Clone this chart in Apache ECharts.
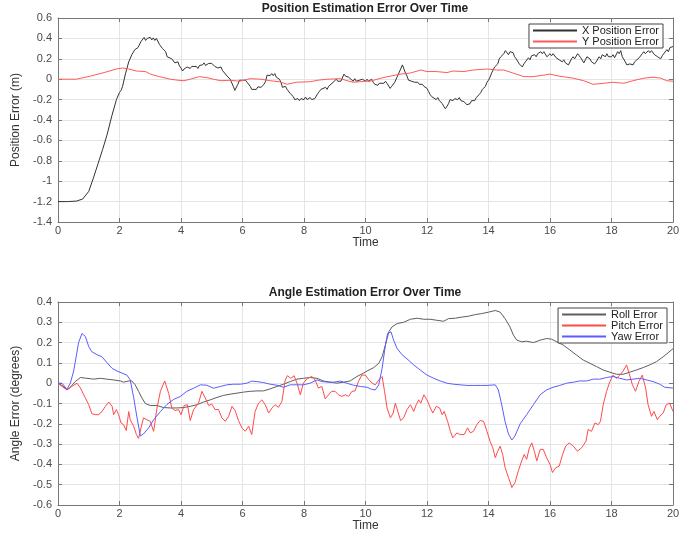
<!DOCTYPE html>
<html>
<head>
<meta charset="utf-8">
<script src="https://cdn.jsdelivr.net/npm/echarts@6/dist/echarts.min.js"></script>
<style>
  html, body { margin: 0; padding: 0; background: #fff; }
  #chart { width: 687px; height: 533px; }
</style>
</head>
<body>
<div id="chart"></div>
<script>
// ---- Position estimation error, [time, error (m)] ----
const xPositionError = [
  [0,-1.2],[0.3,-1.2],[0.6,-1.195],[0.8,-1.175],[1.0,-1.1],[1.15,-0.97],[1.3,-0.83],[1.45,-0.69],
  [1.6,-0.54],[1.75,-0.36],[1.9,-0.2],[2.0,-0.13],[2.05,-0.11],[2.1,-0.07],[2.2,0.06],[2.3,0.17],
  [2.4,0.24],[2.5,0.29],[2.6,0.31],[2.7,0.37],[2.8,0.41],[2.85,0.38],[2.9,0.40],[2.95,0.385],
  [3.0,0.41],[3.05,0.385],[3.1,0.405],[3.15,0.38],[3.2,0.40],[3.3,0.34],[3.35,0.33],[3.4,0.30],
  [3.5,0.27],[3.55,0.22],[3.6,0.235],[3.7,0.2],[3.75,0.21],[3.8,0.16],[3.9,0.17],[3.95,0.13],
  [4.0,0.11],[4.05,0.08],[4.1,0.1],[4.15,0.085],[4.2,0.12],[4.3,0.105],[4.35,0.125],[4.4,0.11],
  [4.5,0.125],[4.55,0.105],[4.6,0.135],[4.7,0.14],[4.75,0.16],[4.8,0.135],[4.9,0.155],[4.95,0.14],
  [5.0,0.155],[5.1,0.125],[5.15,0.14],[5.2,0.11],[5.3,0.12],[5.35,0.085],[5.4,0.08],[5.5,0.03],
  [5.6,0.0],[5.7,-0.07],[5.75,-0.11],[5.8,-0.1],[5.85,-0.05],[5.9,-0.01],[5.95,0.005],[6.0,-0.01],
  [6.05,0.005],[6.1,-0.01],[6.15,-0.03],[6.25,-0.07],[6.3,-0.1],[6.35,-0.11],[6.45,-0.1],[6.5,-0.075],
  [6.6,-0.08],[6.7,-0.05],[6.75,-0.02],[6.8,0.04],[6.85,0.055],[6.9,0.035],[6.95,0.055],[7.0,0.035],
  [7.05,0.055],[7.1,0.02],[7.2,0.0],[7.25,-0.03],[7.3,-0.08],[7.35,-0.09],[7.4,-0.07],[7.45,-0.1],
  [7.5,-0.09],[7.55,-0.14],[7.65,-0.17],[7.7,-0.2],[7.8,-0.19],[7.85,-0.21],[7.9,-0.19],[8.0,-0.2],
  [8.05,-0.175],[8.1,-0.2],[8.2,-0.18],[8.25,-0.2],[8.3,-0.21],[8.35,-0.19],[8.45,-0.14],[8.5,-0.12],
  [8.55,-0.1],[8.6,-0.11],[8.7,-0.08],[8.75,-0.1],[8.8,-0.07],[8.85,-0.08],[8.95,-0.03],[9.0,-0.02],
  [9.05,0.0],[9.1,-0.02],[9.15,-0.01],[9.2,-0.02],[9.3,0.05],[9.35,0.03],[9.4,0.04],[9.45,0.02],
  [9.5,0.02],[9.6,-0.02],[9.65,0.005],[9.7,-0.02],[9.8,-0.01],[9.85,-0.025],[9.9,0.0],[10.0,-0.02],
  [10.05,0.0],[10.1,-0.02],[10.2,0.0],[10.25,-0.03],[10.3,-0.05],[10.4,-0.06],[10.45,-0.04],[10.5,-0.05],
  [10.6,-0.04],[10.65,-0.02],[10.7,-0.04],[10.8,-0.09],[10.85,-0.07],[10.95,-0.03],[11.0,-0.02],[11.1,0.07],
  [11.2,0.14],[11.3,0.06],[11.35,0.03],[11.4,-0.01],[11.45,0.0],[11.5,-0.02],[11.55,-0.01],[11.6,-0.03],
  [11.7,-0.03],[11.75,-0.05],[11.85,-0.05],[11.9,-0.07],[12.0,-0.09],[12.05,-0.12],[12.1,-0.15],[12.15,-0.17],
  [12.2,-0.16],[12.3,-0.2],[12.35,-0.18],[12.4,-0.21],[12.5,-0.24],[12.55,-0.27],[12.6,-0.29],[12.65,-0.28],
  [12.7,-0.24],[12.75,-0.2],[12.8,-0.19],[12.85,-0.21],[12.9,-0.19],[13.0,-0.2],[13.05,-0.18],[13.1,-0.21],
  [13.2,-0.22],[13.3,-0.25],[13.35,-0.26],[13.4,-0.24],[13.45,-0.21],[13.5,-0.2],[13.55,-0.21],[13.6,-0.18],
  [13.7,-0.15],[13.75,-0.13],[13.8,-0.1],[13.9,-0.07],[13.95,-0.03],[14.0,-0.01],[14.05,0.02],[14.1,0.06],
  [14.15,0.09],[14.2,0.12],[14.3,0.15],[14.35,0.2],[14.4,0.22],[14.5,0.25],[14.55,0.28],[14.6,0.27],
  [14.65,0.24],[14.7,0.27],[14.8,0.26],[14.85,0.22],[14.9,0.2],[15.0,0.15],[15.1,0.12],[15.15,0.15],
  [15.2,0.17],[15.3,0.21],[15.35,0.19],[15.4,0.23],[15.5,0.24],[15.55,0.22],[15.6,0.25],[15.7,0.27],
  [15.75,0.25],[15.8,0.27],[15.9,0.22],[16.0,0.25],[16.05,0.23],[16.1,0.25],[16.2,0.21],[16.25,0.22],
  [16.3,0.19],[16.4,0.17],[16.45,0.19],[16.5,0.16],[16.6,0.14],[16.7,0.2],[16.75,0.22],[16.8,0.2],
  [16.9,0.25],[16.95,0.23],[17.0,0.21],[17.1,0.16],[17.15,0.19],[17.2,0.22],[17.3,0.2],[17.35,0.17],
  [17.45,0.15],[17.5,0.17],[17.6,0.22],[17.65,0.2],[17.7,0.24],[17.8,0.22],[17.85,0.25],[17.9,0.22],
  [18.0,0.22],[18.05,0.24],[18.1,0.21],[18.2,0.27],[18.25,0.25],[18.3,0.28],[18.35,0.22],[18.45,0.17],
  [18.5,0.14],[18.55,0.13],[18.6,0.15],[18.7,0.14],[18.75,0.17],[18.8,0.18],[18.9,0.21],[18.95,0.2],
  [19.0,0.25],[19.05,0.27],[19.1,0.25],[19.2,0.28],[19.25,0.26],[19.3,0.28],[19.4,0.24],[19.45,0.25],
  [19.5,0.22],[19.6,0.2],[19.65,0.23],[19.7,0.24],[19.8,0.29],[19.85,0.27],[19.9,0.31],[20.0,0.32]
];

const yPositionError = [
  [0,0],[0.6,0],[1.05,0.03],[1.5,0.065],[1.9,0.1],[2.1,0.11],[2.3,0.1],[2.55,0.08],[2.85,0.075],
  [3.0,0.05],[3.3,0.025],[3.65,0],[3.9,-0.01],[4.1,-0.015],[4.3,0],[4.6,0.025],[4.85,0.015],[5.05,0],
  [5.3,-0.015],[5.6,-0.01],[5.9,-0.02],[6.25,0.005],[6.6,0],[6.9,-0.015],[7.2,-0.025],[7.45,-0.05],
  [7.75,-0.03],[8.2,-0.025],[8.45,-0.01],[8.75,0],[9.2,0.005],[9.4,-0.015],[9.6,-0.03],[10.0,-0.02],
  [10.15,-0.02],[10.5,0.01],[10.8,0.03],[11.15,0.05],[11.45,0.06],[11.8,0.09],[12.0,0.075],[12.3,0.075],
  [12.65,0.065],[12.85,0.08],[13.2,0.075],[13.5,0.09],[13.95,0.1],[14.25,0.09],[14.5,0.09],[14.8,0.06],
  [15.15,0.025],[15.45,0.025],[15.8,0.04],[16.0,0.05],[16.3,0.03],[16.75,0.01],[17.1,-0.015],[17.4,-0.05],
  [17.75,-0.04],[18.05,-0.03],[18.4,-0.04],[18.7,-0.015],[19.05,0.01],[19.35,0.02],[19.6,0.01],
  [19.8,-0.015],[20.0,-0.02]
];

// ---- Angle estimation error, [time, error (degrees)] ----
const rollError = [
  [0,0],[0.18,-0.016],[0.29,-0.033],[0.4,-0.02],[0.56,0.008],[0.73,0.028],[0.94,0.024],[1.16,0.02],
  [1.38,0.024],[1.59,0.02],[1.81,0.016],[2.03,0.011],[2.13,0.005],[2.3,0.011],[2.4,0.011],[2.51,-0.008],
  [2.62,-0.04],[2.73,-0.073],[2.84,-0.1],[3.0,-0.11],[3.22,-0.11],[3.43,-0.12],[3.65,-0.122],[3.87,-0.122],
  [4.08,-0.12],[4.3,-0.114],[4.52,-0.106],[4.73,-0.093],[4.95,-0.082],[5.17,-0.07],[5.38,-0.06],[5.6,-0.054],
  [5.82,-0.049],[6.03,-0.044],[6.25,-0.04],[6.47,-0.038],[6.68,-0.038],[6.9,-0.028],[7.12,-0.016],[7.33,-0.005],
  [7.55,0.008],[7.77,0.02],[7.98,0.024],[8.2,0.028],[8.42,0.024],[8.63,0.011],[8.85,0.005],[9.07,0],
  [9.28,0.005],[9.5,0.011],[9.72,0.033],[9.94,0.05],[10.05,0.06],[10.27,0.077],[10.43,0.098],[10.54,0.13],
  [10.65,0.19],[10.76,0.253],[10.86,0.277],[11.03,0.294],[11.24,0.3],[11.46,0.315],[11.68,0.32],[11.89,0.315],
  [12.1,0.315],[12.32,0.31],[12.54,0.305],[12.7,0.318],[12.92,0.32],[13.14,0.326],[13.35,0.33],[13.57,0.338],
  [13.78,0.343],[14.0,0.35],[14.22,0.358],[14.38,0.35],[14.54,0.318],[14.7,0.277],[14.81,0.237],[14.92,0.212],
  [15.08,0.204],[15.24,0.207],[15.46,0.2],[15.68,0.212],[15.89,0.22],[16.05,0.217],[16.22,0.204],[16.43,0.188],
  [16.65,0.163],[16.86,0.139],[17.08,0.114],[17.3,0.098],[17.51,0.082],[17.73,0.065],[17.95,0.054],[18.16,0.044],
  [18.38,0.044],[18.59,0.054],[18.81,0.065],[19.03,0.077],[19.24,0.09],[19.46,0.106],[19.68,0.13],[19.84,0.15],
  [20,0.17]
];

const pitchError = [
  [0,0],[0.13,-0.016],[0.29,-0.033],[0.45,-0.016],[0.62,0],[0.73,-0.024],[0.89,-0.073],[1.0,-0.106],
  [1.1,-0.15],[1.21,-0.155],[1.32,-0.155],[1.43,-0.14],[1.54,-0.114],[1.65,-0.093],[1.76,-0.114],[1.81,-0.155],
  [1.9,-0.13],[1.97,-0.155],[2.05,-0.196],[2.13,-0.204],[2.22,-0.233],[2.3,-0.14],[2.35,-0.18],[2.46,-0.212],
  [2.55,-0.253],[2.62,-0.272],[2.7,-0.22],[2.78,-0.171],[2.89,-0.18],[3.0,-0.188],[3.11,-0.237],[3.22,-0.122],
  [3.33,-0.04],[3.47,0.011],[3.6,-0.05],[3.7,-0.122],[3.81,-0.135],[3.92,-0.13],[4.0,-0.155],[4.1,-0.11],
  [4.21,-0.106],[4.3,-0.184],[4.41,-0.13],[4.57,-0.098],[4.68,-0.04],[4.79,-0.073],[4.9,-0.11],[5.0,-0.103],
  [5.11,-0.13],[5.22,-0.13],[5.33,-0.171],[5.44,-0.188],[5.55,-0.163],[5.66,-0.114],[5.76,-0.135],[5.87,-0.184],
  [5.98,-0.22],[6.09,-0.237],[6.2,-0.212],[6.3,-0.253],[6.41,-0.14],[6.52,-0.098],[6.63,-0.082],[6.74,-0.106],
  [6.85,-0.147],[6.96,-0.122],[7.06,-0.106],[7.17,-0.119],[7.28,-0.09],[7.39,0.016],[7.46,0.037],[7.57,0.024],
  [7.68,0.037],[7.79,-0.008],[7.88,-0.057],[7.98,0],[8.11,0.024],[8.26,0.033],[8.36,0.016],[8.47,-0.024],
  [8.58,-0.016],[8.69,-0.077],[8.8,-0.057],[8.9,-0.04],[9.01,-0.04],[9.12,-0.057],[9.23,-0.065],[9.34,-0.057],
  [9.45,-0.065],[9.56,-0.04],[9.66,-0.038],[9.77,0.008],[9.88,0.04],[10.0,0.04],[10.11,0.016],[10.22,0],
  [10.32,-0.008],[10.43,0.016],[10.54,0.033],[10.62,-0.04],[10.7,-0.122],[10.81,-0.171],[10.9,-0.147],[10.97,-0.098],
  [11.05,-0.139],[11.14,-0.184],[11.24,-0.171],[11.35,-0.13],[11.46,-0.106],[11.57,-0.139],[11.65,-0.106],[11.73,-0.082],
  [11.8,-0.098],[11.9,-0.057],[12.0,-0.082],[12.11,-0.122],[12.19,-0.147],[12.3,-0.114],[12.41,-0.122],[12.49,-0.155],
  [12.56,-0.139],[12.67,-0.188],[12.76,-0.237],[12.84,-0.269],[12.97,-0.245],[13.08,-0.253],[13.21,-0.253],[13.32,-0.22],
  [13.41,-0.245],[13.51,-0.237],[13.62,-0.204],[13.73,-0.184],[13.84,-0.188],[13.95,-0.237],[14.05,-0.286],[14.14,-0.318],
  [14.22,-0.367],[14.3,-0.335],[14.38,-0.31],[14.46,-0.351],[14.54,-0.416],[14.65,-0.465],[14.76,-0.514],[14.86,-0.49],
  [14.97,-0.432],[15.08,-0.383],[15.16,-0.351],[15.24,-0.375],[15.33,-0.318],[15.41,-0.294],[15.49,-0.335],[15.57,-0.383],
  [15.68,-0.326],[15.78,-0.326],[15.89,-0.367],[16.0,-0.4],[16.08,-0.44],[16.19,-0.416],[16.3,-0.408],[16.41,-0.351],
  [16.51,-0.31],[16.62,-0.294],[16.76,-0.31],[16.89,-0.335],[17.03,-0.318],[17.17,-0.286],[17.24,-0.228],[17.35,-0.237],
  [17.46,-0.196],[17.57,-0.204],[17.64,-0.188],[17.73,-0.106],[17.84,-0.04],[17.95,0.008],[18.05,0.04],[18.16,0.024],
  [18.27,0.04],[18.38,0.06],[18.49,0.09],[18.57,0.05],[18.68,-0.008],[18.78,-0.04],[18.89,0.008],[19.0,0.04],
  [19.11,-0.024],[19.19,-0.106],[19.3,-0.163],[19.38,-0.139],[19.49,-0.18],[19.57,-0.163],[19.68,-0.147],[19.78,-0.106],
  [19.89,-0.098],[20.0,-0.139]
];

const yawError = [
  [0,0],[0.13,0],[0.29,-0.03],[0.4,0],[0.51,0.06],[0.67,0.2],[0.78,0.245],[0.89,0.23],[1.0,0.18],
  [1.1,0.155],[1.27,0.14],[1.43,0.13],[1.6,0.1],[1.76,0.073],[1.92,0.06],[2.08,0.05],[2.24,0.04],
  [2.35,0.016],[2.46,-0.07],[2.57,-0.17],[2.68,-0.26],[2.78,-0.25],[2.95,-0.22],[3.11,-0.18],[3.33,-0.14],
  [3.54,-0.105],[3.76,-0.08],[3.98,-0.065],[4.19,-0.04],[4.41,-0.025],[4.63,-0.008],[4.84,-0.01],[5.06,-0.025],
  [5.28,-0.016],[5.49,-0.008],[5.71,-0.005],[5.93,-0.005],[6.14,0],[6.3,0.01],[6.47,0.008],[6.68,0.003],
  [6.9,-0.005],[7.12,-0.01],[7.33,-0.02],[7.55,-0.008],[7.77,-0.008],[7.98,-0.008],[8.2,0],[8.42,0.016],
  [8.58,0.008],[8.8,0.005],[8.96,0.005],[9.18,0.01],[9.39,0],[9.61,-0.01],[9.83,-0.016],[10.05,-0.02],
  [10.2,-0.03],[10.32,-0.033],[10.43,-0.008],[10.54,0.073],[10.65,0.19],[10.72,0.245],[10.83,0.253],[10.92,0.21],
  [11.03,0.17],[11.19,0.14],[11.35,0.12],[11.57,0.09],[11.78,0.065],[12.0,0.04],[12.22,0.024],[12.43,0.011],
  [12.65,0],[12.86,-0.005],[13.08,-0.008],[13.3,-0.011],[13.51,-0.011],[13.73,-0.011],[13.95,-0.011],[14.22,-0.008],
  [14.32,-0.033],[14.43,-0.106],[14.54,-0.19],[14.65,-0.25],[14.76,-0.28],[14.86,-0.26],[15.03,-0.2],[15.24,-0.155],
  [15.46,-0.106],[15.68,-0.057],[15.89,-0.033],[16.1,-0.02],[16.32,-0.011],[16.54,0],[16.76,0.005],[16.97,0.011],
  [17.19,0.011],[17.41,0.02],[17.62,0.02],[17.84,0.028],[18.05,0.033],[18.27,0.024],[18.49,0.016],[18.7,0.02],
  [18.92,0.024],[19.14,0.016],[19.35,0.008],[19.57,-0.005],[19.73,-0.02],[20,-0.024]
];

// ---- Axis ranges ----
const timeRange = { min: 0, max: 20, interval: 2 };
const positionRange = { min: -1.4, max: 0.6, interval: 0.2 };
const angleRange = { min: -0.6, max: 0.4, interval: 0.1 };

// ---- Line colours ----
const COLORS = {
  'X Position Error': '#333333',
  'Y Position Error': '#ff5a5a',
  'Roll Error': '#5e5e5e',
  'Pitch Error': '#ff4a4a',
  'Yaw Error': '#5c5cff'
};

const FONT = '"Liberation Sans", Arial, Helvetica, sans-serif';
const tickLabel = { color: '#4a4a4a', fontSize: 11, fontFamily: FONT };
const axisLineStyle = { lineStyle: { color: '#777', width: 1 } };
const gridLineStyle = { show: true, lineStyle: { color: '#e4e4e4', width: 1 } };

function xAxisPair(gridIndex, range) {
  return [
    {
      type: 'value', gridIndex, position: 'bottom', ...range,
      name: 'Time', nameLocation: 'middle', nameGap: 15,
      nameTextStyle: { color: '#333', fontSize: 12, fontFamily: FONT },
      axisLine: { show: true, onZero: false, ...axisLineStyle },
      axisTick: { show: true, inside: true, length: 4, lineStyle: { color: '#777' } },
      axisLabel: { ...tickLabel, margin: 3 },
      splitLine: gridLineStyle
    },
    {
      type: 'value', gridIndex, position: 'top', ...range,
      axisLine: { show: true, onZero: false, ...axisLineStyle },
      axisTick: { show: true, inside: true, length: 4, lineStyle: { color: '#777' } },
      axisLabel: { show: false },
      splitLine: { show: false }
    }
  ];
}

function yAxisPair(gridIndex, range, title) {
  return [
    {
      type: 'value', gridIndex, position: 'left', ...range,
      name: title, nameLocation: 'middle', nameGap: 28, nameRotate: 90,
      nameTextStyle: { color: '#333', fontSize: 12, fontFamily: FONT },
      axisLine: { show: true, onZero: false, ...axisLineStyle },
      axisTick: { show: true, inside: true, length: 4, lineStyle: { color: '#777' } },
      axisLabel: { ...tickLabel, margin: 6 },
      splitLine: gridLineStyle
    },
    {
      type: 'value', gridIndex, position: 'right', ...range,
      axisLine: { show: true, onZero: false, ...axisLineStyle },
      axisTick: { show: true, inside: true, length: 4, lineStyle: { color: '#777' } },
      axisLabel: { show: false },
      splitLine: { show: false }
    }
  ];
}

function lineSeries(name, data, xAxisIndex, yAxisIndex) {
  const color = COLORS[name];
  return {
    name, type: 'line', data, xAxisIndex, yAxisIndex,
    symbol: 'none', showSymbol: false, smooth: false,
    lineStyle: { color, width: 1 }, itemStyle: { color },
    animation: false
  };
}

// Legend swatch: a thin horizontal bar in the series colour
function legendItems(names) {
  return names.map(name => ({
    name,
    icon: 'rect',
    itemStyle: { color: COLORS[name], borderWidth: 0, opacity: 1 }
  }));
}

const legendBase = {
  orient: 'vertical', itemWidth: 44, itemHeight: 2, itemGap: 0,
  backgroundColor: '#fff', borderColor: '#444', borderWidth: 1, padding: [1, 4, 1, 4],
  textStyle: { color: '#222', fontSize: 11, lineHeight: 11, fontFamily: FONT }
};

const chart = echarts.init(document.getElementById('chart'), null, { renderer: 'canvas' });
chart.setOption({
  animation: false,
  backgroundColor: '#fff',
  title: [
    { text: 'Position Estimation Error Over Time', left: 365, textAlign: 'center', top: 3, padding: 0,
      textStyle: { fontSize: 12, fontWeight: 'bold', color: '#222', fontFamily: FONT } },
    { text: 'Angle Estimation Error Over Time', left: 365, textAlign: 'center', top: 287, padding: 0,
      textStyle: { fontSize: 12, fontWeight: 'bold', color: '#222', fontFamily: FONT } }
  ],
  grid: [
    { left: 58, right: 14, top: 18, height: 204 },
    { left: 58, right: 14, top: 302, height: 204 }
  ],
  xAxis: [...xAxisPair(0, timeRange), ...xAxisPair(1, timeRange)],
  yAxis: [...yAxisPair(0, positionRange, 'Position Error (m)'),
          ...yAxisPair(1, angleRange, 'Angle Error (degrees)')],
  legend: [
    { ...legendBase, right: 24, top: 24, data: legendItems(['X Position Error', 'Y Position Error']) },
    { ...legendBase, right: 20, top: 308, data: legendItems(['Roll Error', 'Pitch Error', 'Yaw Error']) }
  ],
  series: [
    lineSeries('X Position Error', xPositionError, 0, 0),
    lineSeries('Y Position Error', yPositionError, 0, 0),
    lineSeries('Roll Error', rollError, 2, 2),
    lineSeries('Pitch Error', pitchError, 2, 2),
    lineSeries('Yaw Error', yawError, 2, 2)
  ]
});
</script>
</body>
</html>
